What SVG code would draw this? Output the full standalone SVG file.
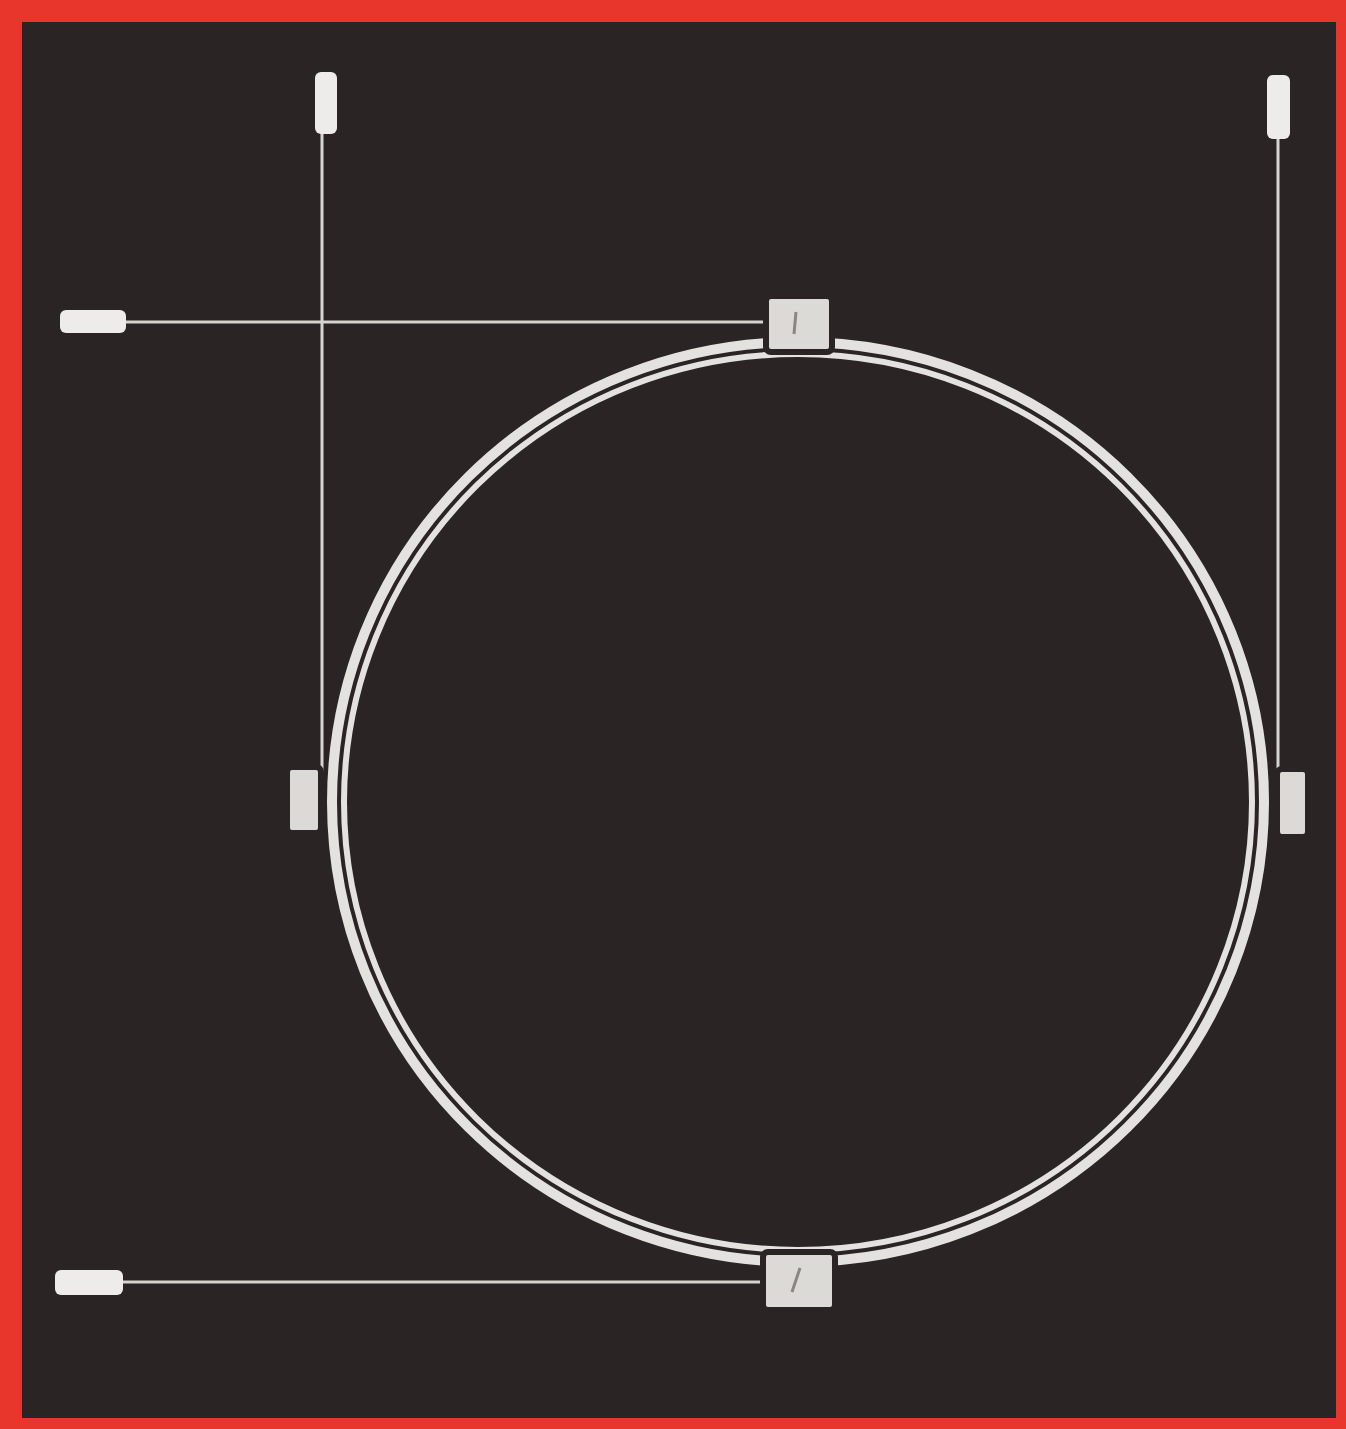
<svg xmlns="http://www.w3.org/2000/svg" width="1346" height="1429" viewBox="0 0 1346 1429">
<defs>
<style>
.ring{fill:none;stroke:#e4e2df}
.handle{stroke:#d6d4d0;stroke-width:3;fill:none}
.end{fill:#eeecea}
.anchor{fill:#dcdad6;stroke:#2a2424;stroke-width:6}
.mark{stroke:#8a8682;stroke-width:3;fill:none}
</style>
</defs>
<rect x="0" y="0" width="1346" height="1429" fill="#e8362c"/>
<rect x="22" y="22" width="1314" height="1396" fill="#2b2424"/>
<g id="circle">
<ellipse class="ring" cx="798" cy="802" rx="466" ry="460" stroke-width="10"/>
<ellipse class="ring" cx="798" cy="802" rx="454" ry="448" stroke-width="6"/>
</g>
<g id="connectors">
<line class="handle" x1="120" y1="322" x2="770" y2="322"/>
<line class="handle" x1="322" y1="130" x2="322" y2="780"/>
<line class="handle" x1="1278" y1="135" x2="1278" y2="785"/>
<line class="handle" x1="118" y1="1282" x2="770" y2="1282"/>
</g>
<g id="handle-ends">
<rect class="end" x="60" y="310" width="66" height="23" rx="6"/>
<rect class="end" x="315" y="72" width="22" height="62" rx="6"/>
<rect class="end" x="1267" y="75" width="23" height="64" rx="6"/>
<rect class="end" x="55" y="1270" width="68" height="25" rx="6"/>
</g>
<g id="anchor-top">
<rect class="anchor" x="766" y="296" width="66" height="56" rx="5"/>
<path class="mark" d="M796 312 L794 334"/>
</g>
<g id="anchor-left">
<rect class="anchor" x="287" y="767" width="34" height="66" rx="5"/>
</g>
<g id="anchor-right">
<rect class="anchor" x="1277" y="769" width="31" height="68" rx="5"/>
</g>
<g id="anchor-bottom">
<rect class="anchor" x="763" y="1252" width="72" height="58" rx="5"/>
<path class="mark" d="M800 1268 L792 1292"/>
</g>
</svg>
